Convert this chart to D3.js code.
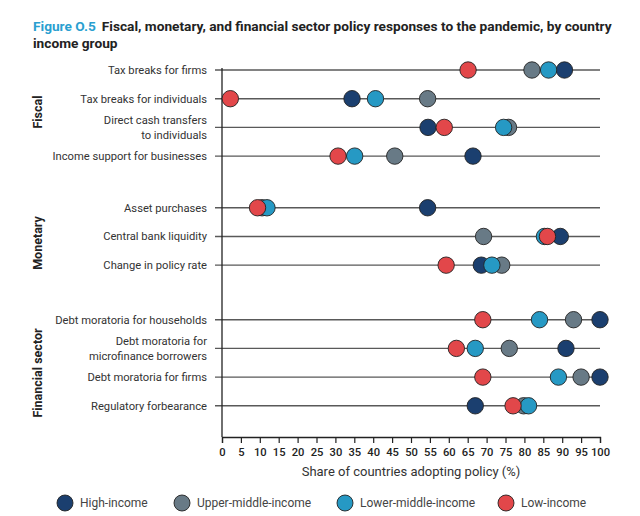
<!DOCTYPE html>
<html><head><meta charset="utf-8">
<script src="https://cdn.jsdelivr.net/npm/d3@7"></script>
<style>
html,body{margin:0;padding:0;background:#fff;}
svg{display:block;font-family:Roboto, "Noto Sans", sans-serif;}
</style></head>
<body><svg id="chart" width="640" height="516"></svg>
<script>
const categories = [
  "Tax breaks for firms","Tax breaks for individuals","Direct cash transfers|to individuals","Income support for businesses",
  "Asset purchases","Central bank liquidity","Change in policy rate",
  "Debt moratoria for households","Debt moratoria for|microfinance borrowers","Debt moratoria for firms","Regulatory forbearance"
];
const groups = ["Fiscal","Monetary","Financial sector"];
const groupOf = [0,0,0,0,1,1,1,2,2,2,2];
const series = ["High-income","Upper-middle-income","Lower-middle-income","Low-income"];
const highIncome  = [90.6, 34.4, 54.5, 66.4, 54.4, 89.5, 68.6, 100, 91, 100, 67];
const upperMiddle = [82,   54.4, 75.8, 45.7, 10.6, 69.2, 74,   93,  76, 95,  79.8];
const lowerMiddle = [86.4, 40.6, 74.5, 35.1, 11.9, 85.3, 71.4, 84,  67, 89,  81.1];
const lowIncome   = [65.1, 2.2,  58.8, 30.7, 9.4,  86.1, 59.3, 69,  62, 69,  77];
const xTicks = [0,5,10,15,20,25,30,35,40,45,50,55,60,65,70,75,80,85,90,95,100];
const colors = ["#1b3f6f","#687a86","#2699c4","#e2474a"];

const svg = d3.select("#chart");
const x = d3.scaleLinear().domain([0,100]).range([222,600]);
const groupGap = [0, 0.8, 1.7];
const slot = categories.map((c,i)=> i + groupGap[groupOf[i]]);
const y = d3.scaleLinear().domain([0, 11.7]).range([70, 405.8]);
const color = d3.scaleOrdinal().domain(series).range(colors);

// title
const title = svg.append("text").attr("x",33).attr("y",31).attr("font-size",13.7).attr("font-weight",700).attr("fill","#222");
title.append("tspan").attr("fill","#2a9fd0").text("Figure O.5");
title.append("tspan").attr("dx",6).text("Fiscal, monetary, and financial sector policy responses to the pandemic, by country");
svg.append("text").attr("x",33).attr("y",48).attr("font-size",13.7).attr("font-weight",700).attr("fill","#222").text("income group");

// row lines
svg.append("g").selectAll("line").data(categories).join("line")
  .attr("x1",215).attr("x2",x(100))
  .attr("y1",(d,i)=>y(slot[i])).attr("y2",(d,i)=>y(slot[i]))
  .attr("stroke","#595959").attr("stroke-width",1.4);

// vertical axis line
svg.append("line").attr("x1",x(0)).attr("x2",x(0)).attr("y1",68).attr("y2",437)
  .attr("stroke","#222").attr("stroke-width",1.3);

// x axis
const xa = svg.append("g").attr("transform","translate(0,437)")
  .call(d3.axisBottom(x).tickValues(xTicks).tickSize(6).tickPadding(5).tickFormat(d3.format("d")));
xa.select(".domain").attr("stroke","#222").attr("stroke-width",1.3);
xa.selectAll(".tick line").attr("stroke","#222").attr("stroke-width",1.2);
xa.selectAll(".tick text").attr("font-size",11.2).attr("font-weight",500).attr("fill","#222").attr("font-family","Roboto, sans-serif");
svg.append("text").attr("x",411).attr("y",476).attr("text-anchor","middle").attr("font-size",13).attr("fill","#333").text("Share of countries adopting policy (%)");

// category labels
const lab = svg.append("g").selectAll("text").data(categories).join("text")
  .attr("x",207).attr("y",(d,i)=>y(slot[i])).attr("text-anchor","end")
  .attr("font-size",11.2).attr("fill","#333");
lab.each(function(d){
  const parts = d.split("|");
  const t = d3.select(this);
  parts.forEach((p,k)=>{
    t.append("tspan").attr("x",207)
     .attr("dy", parts.length===1 ? "0.35em" : (k===0 ? "-0.3em" : "1.35em"))
     .text(p);
  });
});

// group labels
const groupLabelY = [112, 243, 373];
svg.append("g").selectAll("text").data(groups).join("text")
  .attr("transform",(d,i)=>`translate(42,${groupLabelY[i]}) rotate(-90)`)
  .attr("text-anchor","middle").attr("font-size",12.5).attr("font-weight",700).attr("fill","#222")
  .text(d=>d);

// dots
const seriesData = [highIncome, upperMiddle, lowerMiddle, lowIncome];
series.forEach((s,si)=>{
  svg.append("g").selectAll("circle").data(seriesData[si]).join("circle")
    .attr("cx",d=>x(d)).attr("cy",(d,i)=>y(slot[i])).attr("r",8.2)
    .attr("fill",color(s)).attr("stroke","#222").attr("stroke-width",0.9);
});

// legend
const legX = [65, 182, 345, 506];
const leg = svg.append("g").selectAll("g").data(series).join("g")
  .attr("transform",(d,i)=>`translate(${legX[i]},503)`);
leg.append("circle").attr("r",8).attr("fill",d=>color(d)).attr("stroke","#222").attr("stroke-width",0.9);
leg.append("text").attr("x",15).attr("dy","0.35em").attr("font-size",12).attr("fill","#444").text(d=>d);
</script></body></html>
